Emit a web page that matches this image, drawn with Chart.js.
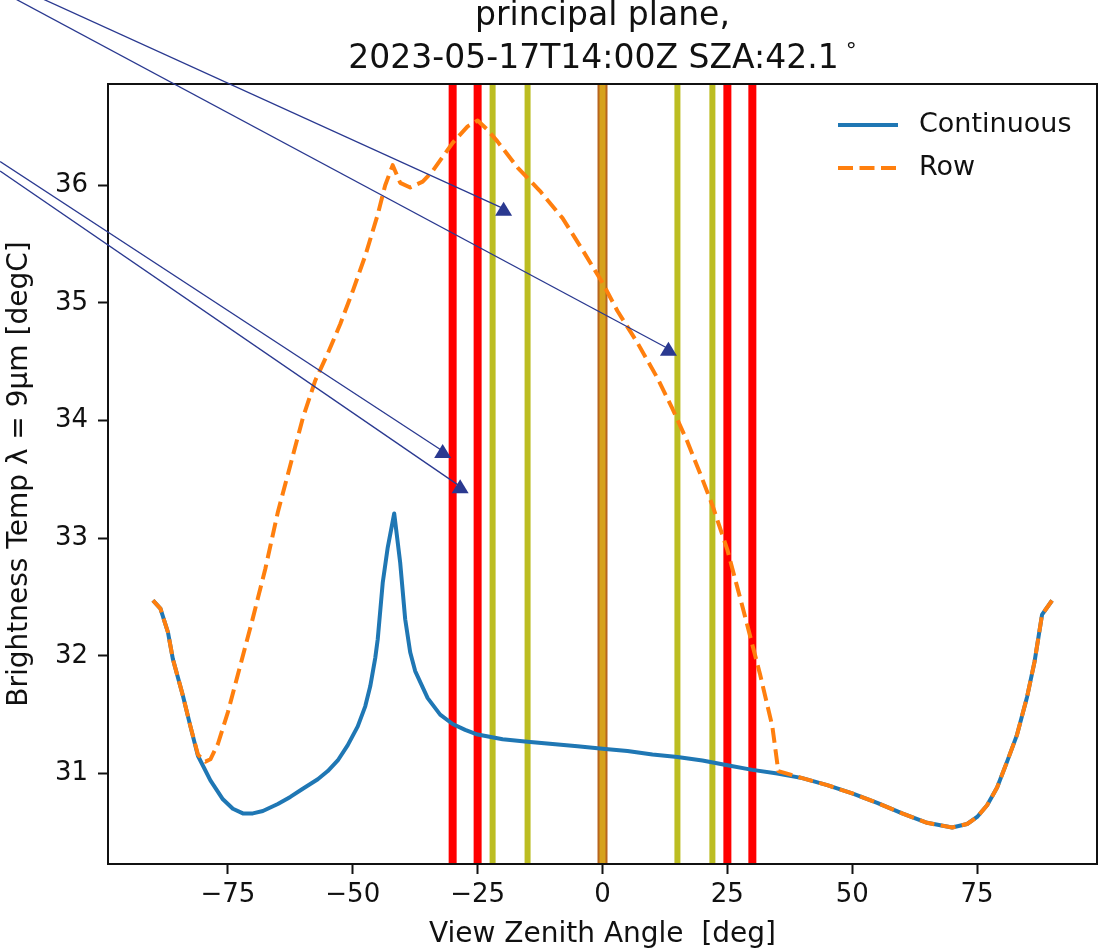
<!DOCTYPE html>
<html>
<head>
<meta charset="utf-8">
<script src="https://cdn.jsdelivr.net/npm/chart.js@4.4.0/dist/chart.umd.min.js"></script>
<style>
  html, body { margin: 0; padding: 0; background: #fff; }
  canvas { display: block; }
</style>
</head>
<body>
<canvas id="chart0" width="1103" height="952"></canvas>
<script>
// values
const contAngle = [-90, -88.5, -87, -86, -84, -82.5, -81, -78.5, -76, -74, -72, -70, -68, -65, -62.5, -60, -57, -55, -53, -51, -49, -47.5, -46.5, -45.5, -45, -44, -43, -41.7, -40.5, -39.5, -38.5, -37.5, -35, -32.5, -30, -27.5, -25, -20, -15, -10, -5, 0, 5, 10, 15, 20, 25, 30, 35, 40, 45, 50, 55, 60, 65, 70, 73, 75, 77, 79, 81, 83, 85, 86.5, 88, 90];
const contTemp = [32.47, 32.40, 32.20, 31.97, 31.66, 31.40, 31.15, 30.94, 30.78, 30.70, 30.66, 30.66, 30.68, 30.74, 30.80, 30.87, 30.95, 31.02, 31.11, 31.24, 31.40, 31.57, 31.74, 31.98, 32.14, 32.62, 32.92, 33.21, 32.79, 32.31, 32.03, 31.87, 31.64, 31.50, 31.42, 31.37, 31.33, 31.29, 31.27, 31.25, 31.23, 31.21, 31.19, 31.16, 31.14, 31.11, 31.07, 31.03, 31.00, 30.96, 30.90, 30.83, 30.75, 30.66, 30.58, 30.54, 30.57, 30.63, 30.73, 30.88, 31.10, 31.33, 31.65, 31.95, 32.35, 32.47];

const rowAngle = [-90, -88.5, -87, -86, -84, -82.5, -81, -79.5, -78.5, -77, -75, -72.5, -70, -67.5, -65, -62.5, -60, -57.5, -55, -52.5, -50, -47.5, -45, -43.5, -42, -40.5, -38.5, -36, -34, -32, -30, -27, -25, -23, -21, -17, -12.5, -8, -4, 0, 3, 7, 11, 14, 17, 20, 22, 25, 28, 31.5, 34, 35.2, 40, 45, 50, 55, 60, 65, 70, 73, 75, 77, 79, 81, 83, 85, 86.5, 88, 90];
const rowTemp = [32.47, 32.40, 32.20, 31.97, 31.66, 31.40, 31.16, 31.10, 31.12, 31.25, 31.52, 31.92, 32.32, 32.74, 33.22, 33.62, 34.02, 34.34, 34.57, 34.82, 35.10, 35.40, 35.75, 36.00, 36.17, 36.02, 35.98, 36.03, 36.12, 36.24, 36.36, 36.50, 36.55, 36.47, 36.37, 36.15, 35.95, 35.72, 35.45, 35.17, 34.93, 34.66, 34.36, 34.10, 33.82, 33.50, 33.28, 32.90, 32.42, 31.85, 31.40, 31.02, 30.96, 30.90, 30.83, 30.75, 30.66, 30.58, 30.54, 30.57, 30.63, 30.73, 30.88, 31.10, 31.33, 31.65, 31.95, 32.35, 32.47];

// vertical marker lines (view zenith angles)
const redLines = [-30, -25, 25, 30];
const oliveLines = [-22, -15, 15, 22];
const centerLines = [0];

const xTicks = [-75, -50, -25, 0, 25, 50, 75];
const yTicks = [31, 32, 33, 34, 35, 36];
const xRange = [-99, 99];
const yRange = [30.23, 36.86];

const titleLines = ['principal plane,', '2023-05-17T14:00Z SZA:42.1'];
const titleSup = '°';

// annotation arrows, in data units (start points lie outside the axes)
const arrowFrom = [[-111.9, 37.58], [-117.4, 37.58], [-120.6, 36.20], [-120.6, 36.12]];
const arrowTo = [[-19.8, 35.80], [13.2, 34.61], [-32.0, 33.74], [-28.5, 33.44]];

const FONT = '"DejaVu Sans", "Liberation Sans", sans-serif';
Chart.defaults.font.family = FONT;
Chart.defaults.color = '#111';

function toPoints(xs, ys) {
  return xs.map((x, i) => ({ x: x, y: ys[i] }));
}
function vline(v) {
  return [{ x: v, y: yRange[0] }, { x: v, y: yRange[1] }];
}
function fmtTick(v) {
  return v < 0 ? '\u2212' + Math.abs(v) : String(v);
}

const common = { pointRadius: 0, tension: 0, fill: false, borderCapStyle: 'butt', borderJoinStyle: 'round' };

const datasets = [
  Object.assign({ label: 'Continuous', data: toPoints(contAngle, contTemp), borderColor: '#1f77b4', borderWidth: 4, order: 1 }, common),
  Object.assign({ label: 'Row', data: toPoints(rowAngle, rowTemp), borderColor: '#ff7f0e', borderWidth: 4, borderDash: [15, 6.5], order: 0 }, common)
];
redLines.forEach(v => datasets.push(Object.assign({ label: '', data: vline(v), borderColor: '#ff0000', borderWidth: 8, order: 2 }, common)));
oliveLines.forEach(v => datasets.push(Object.assign({ label: '', data: vline(v), borderColor: '#bcbd22', borderWidth: 6, order: 2 }, common)));
centerLines.forEach(v => {
  datasets.push(Object.assign({ label: '', data: vline(v), borderColor: '#b8651c', borderWidth: 10, order: 4 }, common));
  datasets.push(Object.assign({ label: '', data: vline(v), borderColor: '#d6a21c', borderWidth: 6, order: 3 }, common));
});

// top/right spines
const framePlugin = {
  id: 'frame',
  afterDraw(chart) {
    const { ctx, chartArea: a } = chart;
    ctx.save();
    ctx.strokeStyle = '#111';
    ctx.lineWidth = 2;
    ctx.strokeRect(a.left, a.top, a.right - a.left, a.bottom - a.top);
    ctx.restore();
  }
};

const titlePlugin = {
  id: 'figTitle',
  afterDraw(chart) {
    const { ctx, chartArea: a } = chart;
    const cx = (a.left + a.right) / 2;
    ctx.save();
    ctx.fillStyle = '#111';
    ctx.textBaseline = 'alphabetic';
    ctx.font = '33px ' + FONT;
    ctx.textAlign = 'center';
    ctx.fillText(titleLines[0], cx, 25);
    const wMain = ctx.measureText(titleLines[1]).width;
    ctx.font = '22px ' + FONT;
    const wSup = ctx.measureText(titleSup).width;
    const gap = 7;
    const start = cx - (wMain + gap + wSup) / 2;
    ctx.textAlign = 'left';
    ctx.font = '33px ' + FONT;
    ctx.fillText(titleLines[1], start, 68);
    ctx.font = '22px ' + FONT;
    ctx.fillText(titleSup, start + wMain + gap, 58);
    ctx.restore();
  }
};

const legendPlugin = {
  id: 'innerLegend',
  afterDraw(chart) {
    const { ctx, chartArea: a } = chart;
    const x0 = a.right - 259, len = 60, tx = a.right - 178;
    [0, 1].forEach((i, k) => {
      const ds = chart.data.datasets[i];
      const y = a.top + 41 + k * 43;
      ctx.save();
      ctx.strokeStyle = ds.borderColor;
      ctx.lineWidth = ds.borderWidth;
      ctx.setLineDash(ds.borderDash || []);
      ctx.beginPath();
      ctx.moveTo(x0, y);
      ctx.lineTo(x0 + len, y);
      ctx.stroke();
      ctx.setLineDash([]);
      ctx.fillStyle = '#111';
      ctx.font = '27px ' + FONT;
      ctx.textBaseline = 'middle';
      ctx.textAlign = 'left';
      ctx.fillText(ds.label, tx, y);
      ctx.restore();
    });
  }
};

const arrowPlugin = {
  id: 'arrows',
  afterDraw(chart) {
    const { ctx } = chart;
    const xs = chart.scales.x, ys = chart.scales.y;
    ctx.save();
    ctx.strokeStyle = '#2a3990';
    ctx.fillStyle = '#2a3990';
    ctx.lineWidth = 1.3;
    arrowFrom.forEach((p, i) => {
      const x1 = xs.getPixelForValue(p[0]), y1 = ys.getPixelForValue(p[1]);
      const x2 = xs.getPixelForValue(arrowTo[i][0]), y2 = ys.getPixelForValue(arrowTo[i][1]);
      ctx.beginPath();
      ctx.moveTo(x1, y1);
      ctx.lineTo(x2, y2);
      ctx.stroke();
      ctx.beginPath();
      ctx.moveTo(x2 - 8.5, y2 + 7);
      ctx.lineTo(x2, y2 - 7);
      ctx.lineTo(x2 + 8.5, y2 + 7);
      ctx.closePath();
      ctx.fill();
    });
    ctx.restore();
  }
};

const axisGrid = { drawOnChartArea: false, drawTicks: true, tickLength: 10, tickWidth: 2, tickColor: '#111' };
const axisBorder = { display: true, color: '#111', width: 2 };

const ctx = document.getElementById('chart0').getContext('2d');
window.myChart = new Chart(ctx, {
  type: 'line',
  data: { datasets: datasets },
  options: {
    responsive: false,
    animation: false,
    devicePixelRatio: 1,
    layout: { padding: { top: 84, right: 6, left: 0, bottom: 0 } },
    plugins: {
      legend: { display: false },
      tooltip: { enabled: false },
      title: { display: false }
    },
    scales: {
      x: {
        type: 'linear',
        min: xRange[0],
        max: xRange[1],
        afterBuildTicks: s => { s.ticks = xTicks.map(v => ({ value: v })); },
        afterFit: s => { s.height = 88; },
        grid: axisGrid,
        border: axisBorder,
        ticks: { font: { size: 26 }, color: '#111', padding: 6, maxRotation: 0, autoSkip: false, callback: fmtTick },
        title: { display: true, text: 'View Zenith Angle  [deg]', font: { size: 28 }, color: '#111', padding: { top: 0, bottom: 0 } }
      },
      y: {
        type: 'linear',
        min: yRange[0],
        max: yRange[1],
        afterBuildTicks: s => { s.ticks = yTicks.map(v => ({ value: v })); },
        afterFit: s => { s.width = 108; },
        grid: axisGrid,
        border: axisBorder,
        ticks: { font: { size: 26 }, color: '#111', padding: 10, callback: fmtTick },
        title: { display: true, text: 'Brightness Temp λ = 9μm [degC]', font: { size: 28 }, color: '#111', padding: { top: 3, bottom: 0 } }
      }
    }
  },
  plugins: [framePlugin, titlePlugin, legendPlugin, arrowPlugin]
});
</script>
</body>
</html>
